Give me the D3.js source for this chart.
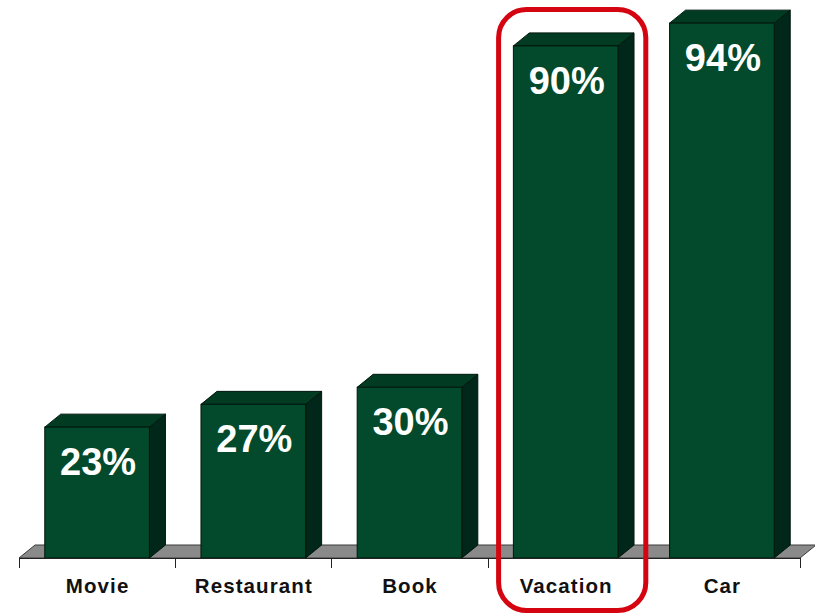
<!DOCTYPE html>
<html>
<head>
<meta charset="utf-8">
<script src="https://cdn.jsdelivr.net/npm/d3@7"></script>
<style>
  html, body { margin: 0; padding: 0; background: #ffffff; }
  svg { display: block; }
</style>
</head>
<body>
<svg id="chart" width="815" height="616"></svg>
<script>
// Share of respondents per purchase category
const categories = ["Movie", "Restaurant", "Book", "Vacation", "Car"];
const values = [23, 27, 30, 90, 94];
const valueLabels = ["23%", "27%", "30%", "90%", "94%"];
const highlighted = ["Vacation"];

const baseY = 558;               // front edge of the floor
const depthX = 16, depthY = 13;  // 3D offset of the back plane

const svg = d3.select("#chart");

const x = d3.scaleBand()
  .domain(categories)
  .range([19, 800])
  .paddingInner(0.33)
  .paddingOuter(0.165);

const y = d3.scaleLinear()
  .domain([0, 100])
  .range([baseY, baseY - 569]);

const step = x.step();
const gap = step * x.paddingInner() / 2;

const colors = {
  front: "#024a2b",
  top: "#013b22",
  side: "#01261a",
  edge: "#00170d",
  floor: "#8a8a8a",
  floorEdge: "#3a3a3a"
};

// Floor plane
const fx0 = x.range()[0], fx1 = x.range()[1];
svg.append("path")
  .attr("d", `M${fx0},${baseY} L${fx0 + depthX},${baseY - depthY} L${fx1 + depthX},${baseY - depthY} L${fx1},${baseY} Z`)
  .attr("fill", colors.floor)
  .attr("stroke", colors.floorEdge)
  .attr("stroke-width", 1);

// 3D bars
const bars = svg.append("g").selectAll("g")
  .data(categories.map((c, i) => ({ c, v: values[i], label: valueLabels[i] })))
  .join("g");

bars.each(function(d) {
  const g = d3.select(this);
  const x0 = x(d.c), x1 = x(d.c) + x.bandwidth();
  const yt = y(d.v);
  // side face
  g.append("path")
    .attr("d", `M${x1},${yt} L${x1 + depthX},${yt - depthY} L${x1 + depthX},${baseY - depthY} L${x1},${baseY} Z`)
    .attr("fill", colors.side)
    .attr("stroke", colors.edge)
    .attr("stroke-width", 1)
    .attr("stroke-linejoin", "round");
  // top face
  g.append("path")
    .attr("d", `M${x0},${yt} L${x0 + depthX},${yt - depthY} L${x1 + depthX},${yt - depthY} L${x1},${yt} Z`)
    .attr("fill", colors.top)
    .attr("stroke", colors.edge)
    .attr("stroke-width", 1)
    .attr("stroke-linejoin", "round");
  // front face
  g.append("rect")
    .attr("x", x0)
    .attr("y", yt)
    .attr("width", x.bandwidth())
    .attr("height", baseY - yt)
    .attr("fill", colors.front)
    .attr("stroke", colors.edge)
    .attr("stroke-width", 1);
  // value label
  g.append("text")
    .attr("x", x0 + x.bandwidth() / 2 + 1)
    .attr("y", yt + 48)
    .attr("text-anchor", "middle")
    .attr("font-family", "Liberation Sans, Arial, sans-serif")
    .attr("font-weight", "bold")
    .attr("font-size", 38)
    .attr("fill", "#ffffff")
    .text(d.label);
});

// Category axis: baseline, boundary ticks and labels
const axis = svg.append("g");
axis.append("line")
  .attr("x1", fx0).attr("x2", fx1)
  .attr("y1", baseY + 0.5).attr("y2", baseY + 0.5)
  .attr("stroke", "#222").attr("stroke-width", 1);

const boundaries = categories.map(c => x(c) - gap).concat([x(categories[categories.length - 1]) + x.bandwidth() + gap]);
axis.selectAll("line.tick")
  .data(boundaries)
  .join("line")
  .attr("class", "tick")
  .attr("x1", d => Math.round(d) + 0.5).attr("x2", d => Math.round(d) + 0.5)
  .attr("y1", baseY).attr("y2", baseY + 10)
  .attr("stroke", "#222").attr("stroke-width", 1);

axis.selectAll("text")
  .data(categories)
  .join("text")
  .attr("x", d => x(d) + x.bandwidth() / 2 + 0.5)
  .attr("y", 593)
  .attr("text-anchor", "middle")
  .attr("font-family", "Liberation Sans, Arial, sans-serif")
  .attr("font-weight", "bold")
  .attr("font-size", 20.5)
  .attr("letter-spacing", "1.1px")
  .attr("fill", "#111")
  .text(d => d);

// Highlight frame around selected categories
highlighted.forEach(c => {
  svg.append("rect")
    .attr("x", x(c) - gap + 11)
    .attr("y", 9.5)
    .attr("width", step - 9)
    .attr("height", 601)
    .attr("rx", 28)
    .attr("ry", 28)
    .attr("fill", "none")
    .attr("stroke", "#d40511")
    .attr("stroke-width", 5);
});
</script>
</body>
</html>
